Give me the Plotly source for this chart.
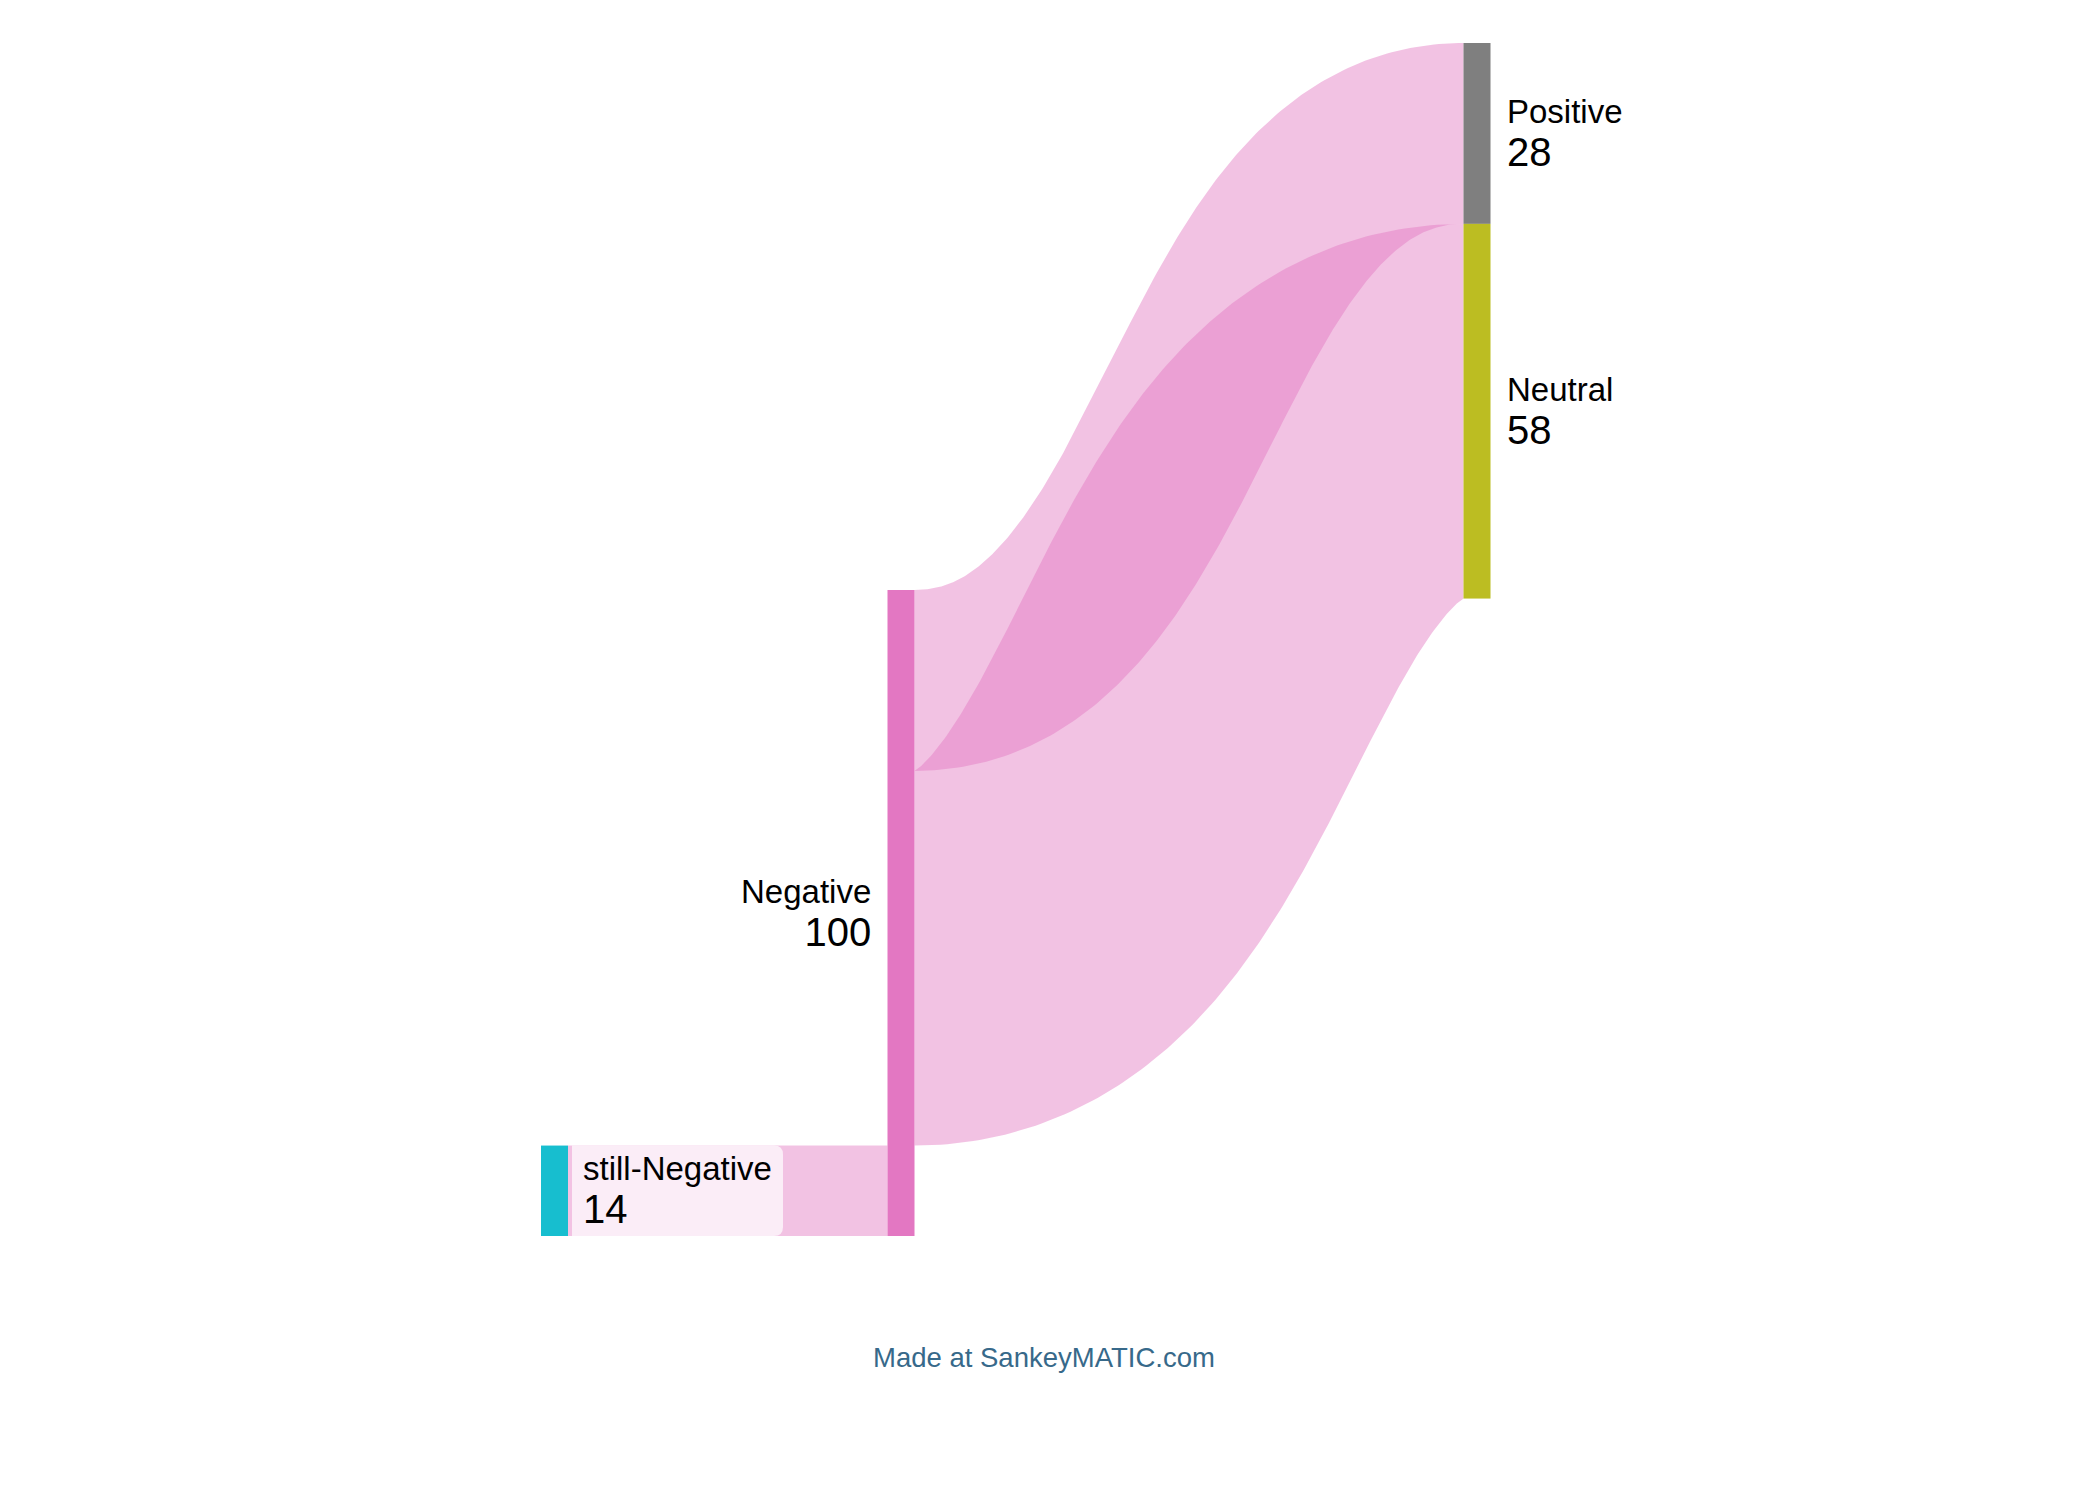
import numpy as np
import plotly.graph_objects as go

# ---------------- data ----------------
node_names = ["still-Negative", "Negative", "Positive", "Neutral"]
node_colors = ["#17becf", "#e377c2", "#7f7f7f", "#bcbd22"]

flow_sources = ["still-Negative", "Negative", "Negative"]
flow_targets = ["Negative", "Positive", "Neutral"]
flow_values = [14, 28, 58]

# ---------------- layout constants (pixels) ----------------
W, H = 2096, 1488
OFF = 8                  # page body margin of the written html
KY = 6.46                # pixels per unit
THICK = 27               # node thickness
RIGHT_TOP = 43           # top of right column
LEFT_BOTTOM = 1236       # bottom of left / middle column
COL_X = {"still-Negative": 554.5, "Negative": 901, "Positive": 1477, "Neutral": 1477}
FONT = "Liberation Sans, Arial, Helvetica, sans-serif"
LINK_RGBA = "rgba(227,119,194,0.45)"
NAME_SIZE = 33
VALUE_SIZE = 40

# node totals shown in labels: everything flowing in or out of a node
totals = {n: 0 for n in node_names}
inflow = {n: 0 for n in node_names}
outflow = {n: 0 for n in node_names}
for s, t, v in zip(flow_sources, flow_targets, flow_values):
    totals[s] += v
    totals[t] += v
    outflow[s] += v
    inflow[t] += v

# ---------------- node geometry (from values) ----------------
top = {}
y = RIGHT_TOP
for n in ["Positive", "Neutral"]:
    top[n] = y
    y += totals[n] * KY
top["Negative"] = LEFT_BOTTOM - totals["Negative"] * KY
top["still-Negative"] = LEFT_BOTTOM - totals["still-Negative"] * KY
bottom = {n: top[n] + totals[n] * KY for n in node_names}
cy = {n: (top[n] + bottom[n]) / 2 for n in node_names}

# invisible spacer so the sankey layout makes "Negative" as tall as its total
spacer_val = totals["Negative"] - inflow["Negative"]
spacer_cy = top["still-Negative"] - 12 - spacer_val * KY / 2

all_nodes = node_names + ["spacer"]
idx = {n: i for i, n in enumerate(all_nodes)}
node_x = [(COL_X[n] - OFF) / W for n in node_names] + [(COL_X["still-Negative"] - OFF) / W]
node_y = [(cy[n] - OFF) / H for n in node_names] + [(spacer_cy - OFF) / H]

src = [idx[s] for s in flow_sources] + [idx["spacer"]]
tgt = [idx[t] for t in flow_targets] + [idx["Negative"]]
val = list(flow_values) + [spacer_val]

pad = H - 100 * KY  # sets the value->pixel scale of the sankey layout

fig = go.Figure()

# ---------------- link ribbons (stroked-bezier look) ----------------
def ribbon(x0, y0, x1, y1, w, n=240):
    t = np.linspace(0, 1, n)
    xm = (x0 + x1) / 2
    bx = (1 - t) ** 3 * x0 + 3 * (1 - t) ** 2 * t * xm + 3 * (1 - t) * t ** 2 * xm + t ** 3 * x1
    by = (1 - t) ** 3 * y0 + 3 * (1 - t) ** 2 * t * y0 + 3 * (1 - t) * t ** 2 * y1 + t ** 3 * y1
    dx = 3 * (1 - t) ** 2 * (xm - x0) + 3 * t ** 2 * (x1 - xm)
    dy = 6 * (1 - t) * t * (y1 - y0)
    L = np.hypot(dx, dy)
    nx, ny = -dy / L, dx / L
    ax, ay = bx + nx * w / 2, by + ny * w / 2
    cx, cyy = bx - nx * w / 2, by - ny * w / 2
    xs = np.concatenate([ax, cx[::-1], ax[:1]])
    ys = np.concatenate([ay, cyy[::-1], ay[:1]])
    return xs, ys

# stack link ends on node sides
out_off = {n: top[n] for n in node_names}
in_off = {n: bottom[n] - inflow[n] * KY for n in node_names}
order = sorted(range(len(flow_values)), key=lambda i: top[flow_targets[i]])
ends = {}
for i in order:
    s = flow_sources[i]
    w = flow_values[i] * KY
    ends[i] = [out_off[s] + w / 2, None]
    out_off[s] += w
for i in sorted(range(len(flow_values)), key=lambda i: top[flow_sources[i]]):
    t_ = flow_targets[i]
    w = flow_values[i] * KY
    ends[i][1] = in_off[t_] + w / 2
    in_off[t_] += w

for i in range(len(flow_values)):
    s, t_ = flow_sources[i], flow_targets[i]
    x0 = COL_X[s] + THICK / 2
    x1 = COL_X[t_] - THICK / 2
    xs, ys = ribbon(x0, ends[i][0], x1, ends[i][1], flow_values[i] * KY)
    fig.add_trace(go.Scatter(
        x=xs, y=ys, mode="lines", fill="toself", fillcolor=LINK_RGBA,
        line=dict(width=0), hoverinfo="text",
        text=f"{s} → {t_}: {flow_values[i]}", showlegend=False,
    ))

# ---------------- nodes ----------------
fig.add_trace(go.Sankey(
    arrangement="fixed",
    domain=dict(x=[0, 1], y=[0, 1]),
    node=dict(
        label=["" for _ in all_nodes],
        customdata=node_names + [""],
        hovertemplate="%{customdata}<extra></extra>",
        color=node_colors + ["rgba(0,0,0,0)"],
        x=node_x,
        y=node_y,
        pad=pad,
        thickness=THICK,
        line=dict(width=0),
    ),
    link=dict(
        source=src,
        target=tgt,
        value=val,
        color=["rgba(0,0,0,0)"] * len(val),
        line=dict(width=0),
        hoverinfo="none",
    ),
))

# ---------------- labels ----------------
def label_text(n):
    return f"{n}<br><span style='font-size:{VALUE_SIZE}px'>{totals[n]}</span>"

ann = []
for n in ["Positive", "Neutral"]:
    ann.append(dict(x=COL_X[n] + THICK / 2 + 14, y=cy[n],
                    xanchor="left", yanchor="middle",
                    align="left", showarrow=False, text=label_text(n),
                    font=dict(family=FONT, size=NAME_SIZE, color="#000")))
ann.append(dict(x=COL_X["Negative"] - THICK / 2 - 15, y=cy["Negative"],
                xanchor="right", yanchor="middle",
                align="right", showarrow=False, text=label_text("Negative"),
                font=dict(family=FONT, size=NAME_SIZE, color="#000")))

sn = "still-Negative"
bx0 = COL_X[sn] + THICK / 2 + 4
bx1 = bx0 + 211
by0, by1 = top[sn], bottom[sn]
r = 9
path = (f"M {bx0},{by0} L {bx1 - r},{by0} Q {bx1},{by0} {bx1},{by0 + r} "
        f"L {bx1},{by1 - r} Q {bx1},{by1} {bx1 - r},{by1} L {bx0},{by1} Z")
shapes = [dict(type="path", path=path, xref="x", yref="y",
               fillcolor="rgba(255,255,255,0.7)", line=dict(width=0), layer="above")]
ann.append(dict(x=bx0 + 9, y=cy[sn],
                xanchor="left", yanchor="middle",
                align="left", showarrow=False, text=label_text(sn),
                font=dict(family=FONT, size=NAME_SIZE, color="#000")))

ann.append(dict(x=1044, y=1357, xanchor="center", yanchor="middle", showarrow=False,
                text="Made at SankeyMATIC.com",
                font=dict(family=FONT, size=27.5, color="#37698a")))
for a in ann:
    a.update(xref="x", yref="y")

fig.update_layout(
    width=W, height=H,
    margin=dict(l=0, r=0, t=0, b=0),
    paper_bgcolor="white",
    plot_bgcolor="white",
    xaxis=dict(range=[OFF, W + OFF], visible=False, fixedrange=True),
    yaxis=dict(range=[H + OFF, OFF], visible=False, fixedrange=True),
    annotations=ann,
    shapes=shapes,
    showlegend=False,
)

fig.write_html("out.html")
